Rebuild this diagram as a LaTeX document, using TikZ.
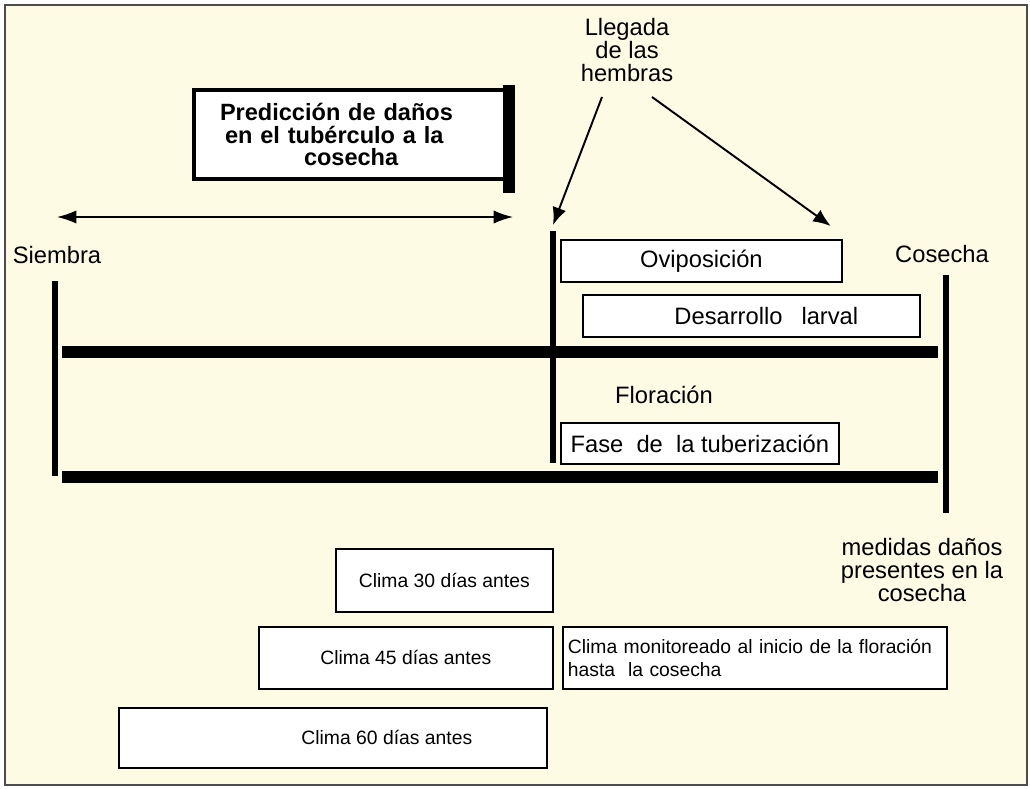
\documentclass[tikz,border=0pt]{standalone}
\usepackage{fontspec}
\setmainfont{Liberation Sans}
\usetikzlibrary{positioning, arrows.meta}
\definecolor{paper}{RGB}{253,251,228}

\tikzset{
    phasebox/.style={draw, fill=white, line width=1pt, inner sep=0pt, font=\fontsize{13.5}{15}\selectfont},
    climabox/.style={draw, fill=white, line width=1pt, inner sep=0pt, font=\fontsize{11}{13}\selectfont},
    tag/.style={inner sep=0pt, align=center, font=\fontsize{13.5}{13.3}\selectfont},
    bar/.style={line width=6.3pt},
    stem/.style={line width=3.4pt},
    hint/.style={-{Latex[length=10pt,width=8pt]}, line width=1.1pt},
}

\begin{document}
\begin{tikzpicture}[x=0.02cm, y=-0.02cm]
    \fill[white] (0,0) rectangle (1030,788);
    \filldraw[fill=paper, draw=black!70, line width=0.8pt] (5,5) rectangle (1027,785);

    % title box
    \node[draw, fill=white, line width=2.3pt, anchor=north west, inner sep=0, minimum width=6.26cm, minimum height=1.78cm, text width=6.26cm, align=left, font=\bfseries\fontsize{13.4}{12.9}\selectfont] (pred) at (192,88) {\hspace*{0.52cm}Predicción de daños\\\hspace*{0.62cm}en el tubérculo a la\\\hspace*{2.2cm}cosecha};
    \draw[line width=6.3pt] ([yshift=0.06cm]pred.north east) -- ([yshift=-0.24cm]pred.south east);

    \coordinate (lead a) at (57,217);
    \coordinate (lead b) at (513,217);
    \draw[{Latex[length=11pt,width=7.5pt]}-{Latex[length=11pt,width=7.5pt]}, line width=0.9pt] (lead a) -- (lead b);

    % time line
    \node[tag] (siembra) at (57,255) {Siembra};
    \node[tag] (cosecha) at (942,254) {Cosecha};
    \coordinate (siembra top) at (55,281);
    \coordinate (siembra bot) at (55,476);
    \coordinate (flor top) at (553,231);
    \coordinate (flor bot) at (553,463);
    \coordinate (cosecha top) at (946,275);
    \coordinate (cosecha bot) at (946,513);
    \draw[stem] (siembra top) -- (siembra bot);
    \draw[stem] (flor top) -- (flor bot);
    \draw[stem] (cosecha top) -- (cosecha bot);
    \draw[bar] (62,352) -- (938,352);
    \draw[bar] (62,477) -- (938,477);

    % phases
    \node[phasebox, anchor=north west, minimum width=5.62cm, minimum height=0.84cm] (ovi) at (560,239) {Oviposición};
    \node[phasebox, anchor=north west, minimum width=6.74cm, minimum height=0.84cm] (larva) at (582,294) {\hspace*{0.6cm}Desarrollo\hspace{0.8em}larval};
    \node[tag] (flor) at (664,395) {Floración};
    \node[phasebox, anchor=north west, minimum width=5.56cm, minimum height=0.82cm] (tuber) at (560,422) {Fase\ \ de\ \ la tuberización};

    % females
    \node[tag] (llegada) at (627,50) {Llegada\\de las\\hembras};
    \coordinate (h1) at (602,97);
    \coordinate (h2) at (652,97);
    \draw[hint] (h1) -- ([yshift=0.12cm]flor top);
    \draw[hint] (h2) -- ([shift={(-0.24cm,0.26cm)}]ovi.north east);

    \node[tag] (medidas) at (922,570) {medidas daños\\presentes en la\\cosecha};

    % climate windows
    \node[climabox, anchor=north west, minimum width=4.34cm, minimum height=1.26cm] (c30) at (335,548) {Clima 30 días antes};
    \node[climabox, anchor=north west, minimum width=5.88cm, minimum height=1.24cm] (c45) at (258,626) {Clima 45 días antes};
    \node[climabox, anchor=north west, minimum width=7.68cm, minimum height=1.24cm, text width=7.48cm, align=left, inner xsep=0.1cm] (cmon) at (562,626) {Clima monitoreado al inicio de la floración\\hasta\ \ la cosecha};
    \node[climabox, anchor=north west, minimum width=8.56cm, minimum height=1.2cm] (c60) at (118,707) {\hspace*{2.16cm}Clima 60 días antes};
\end{tikzpicture}
\end{document}
